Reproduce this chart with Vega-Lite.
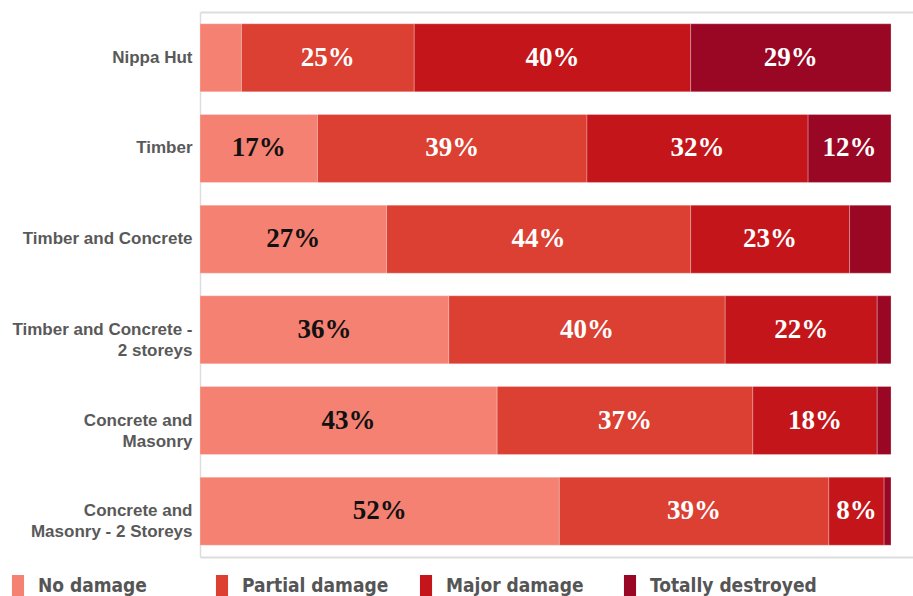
{
  "$schema": "https://vega.github.io/schema/vega-lite/v6.json",
  "width": 713,
  "height": 545,
  "autosize": {"type": "none"},
  "padding": {"left": 200, "top": 12, "right": 0, "bottom": 39},
  "background": "white",
  "config": {"view": {"stroke": null}, "font": "Liberation Sans"},
  "data": {
    "values": [
      {"type": "Nippa Hut", "damage": "No damage", "pct": 6},
      {"type": "Nippa Hut", "damage": "Partial damage", "pct": 25},
      {"type": "Nippa Hut", "damage": "Major damage", "pct": 40},
      {"type": "Nippa Hut", "damage": "Totally destroyed", "pct": 29},
      {"type": "Timber", "damage": "No damage", "pct": 17},
      {"type": "Timber", "damage": "Partial damage", "pct": 39},
      {"type": "Timber", "damage": "Major damage", "pct": 32},
      {"type": "Timber", "damage": "Totally destroyed", "pct": 12},
      {"type": "Timber and Concrete", "damage": "No damage", "pct": 27},
      {"type": "Timber and Concrete", "damage": "Partial damage", "pct": 44},
      {"type": "Timber and Concrete", "damage": "Major damage", "pct": 23},
      {"type": "Timber and Concrete", "damage": "Totally destroyed", "pct": 6},
      {"type": "Timber and Concrete - 2 storeys", "damage": "No damage", "pct": 36},
      {"type": "Timber and Concrete - 2 storeys", "damage": "Partial damage", "pct": 40},
      {"type": "Timber and Concrete - 2 storeys", "damage": "Major damage", "pct": 22},
      {"type": "Timber and Concrete - 2 storeys", "damage": "Totally destroyed", "pct": 2},
      {"type": "Concrete and Masonry", "damage": "No damage", "pct": 43},
      {"type": "Concrete and Masonry", "damage": "Partial damage", "pct": 37},
      {"type": "Concrete and Masonry", "damage": "Major damage", "pct": 18},
      {"type": "Concrete and Masonry", "damage": "Totally destroyed", "pct": 2},
      {"type": "Concrete and Masonry - 2 Storeys", "damage": "No damage", "pct": 52},
      {"type": "Concrete and Masonry - 2 Storeys", "damage": "Partial damage", "pct": 39},
      {"type": "Concrete and Masonry - 2 Storeys", "damage": "Major damage", "pct": 8},
      {"type": "Concrete and Masonry - 2 Storeys", "damage": "Totally destroyed", "pct": 1}
    ]
  },
  "transform": [
    {"calculate": "indexof(['No damage','Partial damage','Major damage','Totally destroyed'], datum.damage)", "as": "k"},
    {"stack": "pct", "groupby": ["type"], "sort": [{"field": "k"}], "as": ["p0", "p1"]},
    {"calculate": "(datum.p0 + datum.p1) / 2", "as": "mid"},
    {"calculate": "datum.pct + '%'", "as": "label"}
  ],
  "encoding": {
    "y": {
      "field": "type",
      "type": "nominal",
      "sort": ["Nippa Hut", "Timber", "Timber and Concrete", "Timber and Concrete - 2 storeys", "Concrete and Masonry", "Concrete and Masonry - 2 Storeys"],
      "scale": {"paddingInner": 0.25, "paddingOuter": 0.13},
      "axis": {
        "title": null,
        "domainColor": "#dddddd",
        "domainWidth": 1.5,
        "ticks": false,
        "labelPadding": 8,
        "labelFont": "Liberation Sans",
        "labelFontSize": 17,
        "labelFontWeight": "bold",
        "labelColor": "#595959",
        "labelLineHeight": 21,
        "labelLimit": 300,
        "labelExpr": "datum.value === 'Timber and Concrete - 2 storeys' ? ['Timber and Concrete -', '2 storeys'] : datum.value === 'Concrete and Masonry' ? ['Concrete and', 'Masonry'] : datum.value === 'Concrete and Masonry - 2 Storeys' ? ['Concrete and', 'Masonry - 2 Storeys'] : datum.value"
      }
    }
  },
  "layer": [
    {
      "mark": {"type": "bar", "stroke": "#ffffff", "strokeOpacity": 0.25, "strokeWidth": 1},
      "encoding": {
        "x": {
          "field": "p0",
          "type": "quantitative",
          "scale": {"domain": [0, 103.18], "nice": false},
          "axis": {"orient": "bottom", "title": null, "labels": false, "ticks": false, "grid": false, "domainColor": "#dddddd", "domainWidth": 2}
        },
        "x2": {"field": "p1"},
        "color": {
          "field": "damage",
          "type": "nominal",
          "scale": {
            "domain": ["No damage", "Partial damage", "Major damage", "Totally destroyed"],
            "range": ["#f48172", "#db4033", "#c4161a", "#9a0724"]
          },
          "legend": {
            "orient": "none",
            "legendX": -193,
            "legendY": 563,
            "direction": "horizontal",
            "columns": 4,
            "gridAlign": "all",
            "columnPadding": 6,
            "padding": 0,
            "title": null,
            "symbolType": "M-0.55,-1H0.55V1H-0.55Z",
            "symbolSize": 484,
            "symbolStrokeWidth": 0,
            "symbolOpacity": 1,
            "labelFont": "DejaVu Sans Condensed, Liberation Sans",
            "labelFontSize": 19,
            "labelFontWeight": "bold",
            "labelColor": "#555555",
            "labelOffset": 9,
            "labelLimit": 300
          }
        }
      }
    },
    {
      "transform": [{"filter": "datum.pct >= 8"}],
      "mark": {"type": "text", "font": "Liberation Serif", "fontSize": 27, "fontWeight": "bold", "baseline": "middle", "align": "center"},
      "encoding": {
        "x": {
          "field": "mid",
          "type": "quantitative",
          "axis": {"orient": "top", "title": null, "labels": false, "ticks": false, "grid": false, "domainColor": "#dddddd", "domainWidth": 2}
        },
        "text": {"field": "label"},
        "color": {
          "condition": {"test": "datum.damage === 'No damage'", "value": "#111111"},
          "value": "#ffffff"
        }
      }
    }
  ]
}
